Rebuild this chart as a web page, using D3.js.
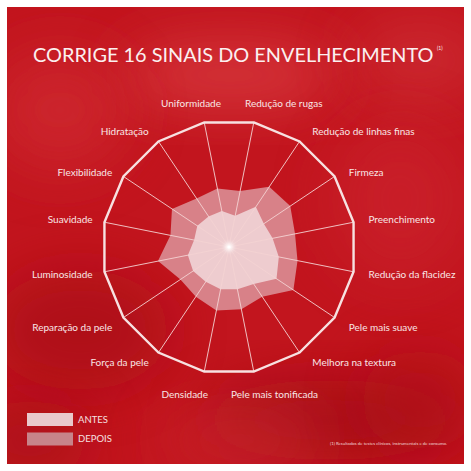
<!DOCTYPE html>
<html><head><meta charset="utf-8">
<script src="https://cdn.jsdelivr.net/npm/d3@7"></script>
<style>html,body{margin:0;padding:0;background:#fff;} svg{display:block}</style>
</head><body>
<script>
const categories = ["Redução de rugas","Redução de linhas finas","Firmeza","Preenchimento","Redução da flacidez","Pele mais suave","Melhora na textura","Pele mais tonificada","Densidade","Força da pele","Reparação da pele","Luminosidade","Suavidade","Flexibilidade","Hidratação","Uniformidade"];
const antes  = [25, 38, 33, 35, 40, 45, 35, 34, 34, 33, 34, 33, 28, 30, 29, 29];
const depois = [45, 57, 58, 53, 55, 61, 47, 50, 51, 47, 46, 57, 47, 54, 46, 47];
const seriesNames = ["ANTES", "DEPOIS"];
const titleText = "CORRIGE 16 SINAIS DO ENVELHECIMENTO";
const titleNote = "(1)";
const footnote = "(1) Resultados de testes clínicos, instrumentais e de consumo.";

const W = 471, H = 471, cx = 229, cy = 247, R = 127;
const n = categories.length;
const svg = d3.select("body").append("svg").attr("width", W).attr("height", H);
const defs = svg.append("defs");
const blur = defs.append("filter").attr("id","blur").attr("x","-50%").attr("y","-50%").attr("width","200%").attr("height","200%");
blur.append("feGaussianBlur").attr("stdDeviation", 28);
const glow = defs.append("filter").attr("id","glow").attr("x","-200%").attr("y","-200%").attr("width","500%").attr("height","500%");
glow.append("feGaussianBlur").attr("stdDeviation", 2);
const clip = defs.append("clipPath").attr("id","bgclip");
clip.append("rect").attr("x",7).attr("y",7).attr("width",457).attr("height",457);

// background
const bg = svg.append("g").attr("clip-path","url(#bgclip)");
bg.append("rect").attr("x",7).attr("y",7).attr("width",457).attr("height",457).attr("fill","#c2151e");
const patches = [
  [230, 75, 110, 35, "#d93a40", 0.8],
  [60, 110, 70, 60, "#d02a30", 0.7],
  [420, 60, 70, 40, "#d2343a", 0.6],
  [400, 200, 70, 80, "#cf2830", 0.5],
  [80, 330, 90, 60, "#a80f18", 0.7],
  [330, 420, 130, 40, "#9d0d16", 0.7],
  [240, 440, 80, 30, "#cf2b31", 0.6],
  [420, 400, 60, 50, "#b01119", 0.6],
  [30, 440, 60, 40, "#a20e17", 0.6]
];
patches.forEach(p => bg.append("ellipse").attr("cx",p[0]).attr("cy",p[1]).attr("rx",p[2]).attr("ry",p[3])
  .attr("fill",p[4]).attr("opacity",p[5]).attr("filter","url(#blur)"));

// scales
const angle = d3.scaleLinear().domain([0, n]).range([Math.PI/n, Math.PI/n + 2*Math.PI]);
const r = d3.scaleLinear().domain([0, 100]).range([0, R]);
const radial = d3.lineRadial().angle((d,i) => angle(i)).radius(d => r(d)).curve(d3.curveLinearClosed);

const g = svg.append("g").attr("transform", `translate(${cx},${cy})`);

// series
g.append("path").datum(depois).attr("d", radial).attr("fill", "#d98a90").attr("opacity", 0.93);
g.append("path").datum(antes).attr("d", radial).attr("fill", "#efd0d3").attr("opacity", 0.95);

// spokes
g.selectAll("line.spoke").data(categories).join("line").attr("class","spoke")
  .attr("x1",0).attr("y1",0)
  .attr("x2",(d,i)=> r(100)*Math.sin(angle(i)))
  .attr("y2",(d,i)=> -r(100)*Math.cos(angle(i)))
  .attr("stroke","#f4d2d2").attr("stroke-width",0.9);

// outer polygon
g.append("path").datum(categories.map(()=>100)).attr("d", radial)
  .attr("fill","none").attr("stroke","#f7e1e1").attr("stroke-width",2.4).attr("stroke-linejoin","miter");

// center glow
g.append("circle").attr("r",4).attr("fill","#fff").attr("filter","url(#glow)");
g.append("circle").attr("r",1.6).attr("fill","#fff");

// labels
g.selectAll("text.lbl").data(categories).join("text").attr("class","lbl")
  .each(function(d,i){
    const a = angle(i), s = Math.sin(a), c = Math.cos(a);
    let x, y = -(R + 12) * c;
    const anchor = s > 0 ? "start" : "end";
    if (Math.abs(s) < 0.3) {
      if (c > 0) { x = s > 0 ? 16 : -8; y -= 7; }
      else { x = s > 0 ? 2 : -21; y += 11; }
    } else {
      x = (R + 5) * s + (s > 0 ? 10 : -7);
      if (Math.abs(c) > 0.5 && Math.abs(c) < 0.7) y += 3;
    }
    d3.select(this).attr("x", x).attr("y", y).attr("text-anchor", anchor).attr("dy","0.35em");
  })
  .text(d=>d)
  .attr("font-family","Lato, 'Open Sans', sans-serif").attr("font-size",10).attr("fill","#f8e6e6");

// title
svg.append("text").attr("x",33).attr("y",62).text(titleText)
  .attr("font-family","Lato, sans-serif").attr("font-size",19.9).attr("fill","#fbf0f0");
svg.append("text").attr("x",437).attr("y",50).text(titleNote)
  .attr("font-family","Lato, sans-serif").attr("font-size",5).attr("fill","#fbf0f0");

// legend
const legColors = ["#e9c9cc", "#c7848a"];
const leg = svg.append("g").selectAll("g").data(seriesNames).join("g")
  .attr("transform",(d,i)=>`translate(27,${413 + i*19.5})`);
leg.append("rect").attr("width",46).attr("height",13).attr("fill",(d,i)=>legColors[i]);
leg.append("text").attr("x",51).attr("y",6.5).attr("dy","0.35em").text(d=>d)
  .attr("font-family","Lato, sans-serif").attr("font-size",9.5).attr("fill","#f5e0e0");

// footnote
svg.append("text").attr("x",330).attr("y",445).text(footnote)
  .attr("font-family","Lato, sans-serif").attr("font-size",3.6).attr("fill","#f2d8d8")
  .attr("textLength",117).attr("lengthAdjust","spacingAndGlyphs");
</script>
</body></html>
